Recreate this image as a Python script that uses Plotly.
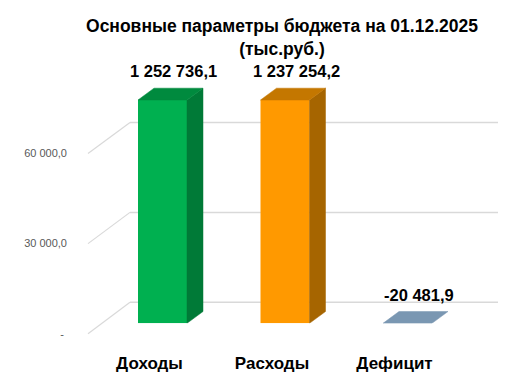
import plotly.graph_objects as go

# ---------------- data ----------------
categories = ["Доходы", "Расходы", "Дефицит"]
values = [1252736.1, 1237254.2, -20481.9]
tick_values = [0, 30000, 60000]
tick_labels = ["-\u00a0", "30 000,0", "60 000,0"]
title_lines = ["Основные параметры бюджета на 01.12.2025", "(тыс.руб.)"]

front_colors = ["#00B050", "#FF9900", "#7F9BB5"]
side_colors = ["#007A37", "#A66500", "#5F7A93"]
top_colors = ["#008A3E", "#C47700", "#7A97B2"]

FONT = "Liberation Sans, Arial, sans-serif"

# page body has an 8px default margin on every side: keep the page exactly 515x387
PAGE_W, PAGE_H, OFF = 515, 387, 8
W, H = PAGE_W - OFF, PAGE_H - 2 * OFF


def xf(px):
    return (px - OFF) / W


def yf(py):
    return 1 - (py - OFF) / H


CAT_PX = 122.5
X_LEFT = 101.25
BASE_PX = 328.5
TOP_PX = 101.5
SCALE = 3.0 / 1000
Y_MAX = (BASE_PX - TOP_PX) / SCALE
BAR_W = 0.4
DEPTH_DX = 16 / CAT_PX
DEPTH_DY = 12 / SCALE

BACK_BASE, BACK_SCALE = 307.0, 3.042 / 1000
FRONT_BASE, FRONT_SCALE = 339.0, 3.05 / 1000
WALL_FRONT_X, WALL_BACK_X, BACK_RIGHT_X = 88, 130, 498
GRID_COLOR = "#D9D9D9"

fig = go.Figure()

# front faces: real bars, clipped by the axis range
fig.add_trace(go.Bar(
    x=categories, y=values, width=BAR_W,
    marker=dict(color=front_colors, line=dict(width=0)),
    xaxis="x", yaxis="y", hoverinfo="skip", showlegend=False,
))

# side and top faces (3-D look), computed from the same values and range
for i, v in enumerate(values):
    top = min(max(v, 0), Y_MAX)
    x0, x1 = i - BAR_W / 2, i + BAR_W / 2
    if top > 0:
        fig.add_trace(go.Scatter(
            x=[x1, x1 + DEPTH_DX, x1 + DEPTH_DX, x1, x1],
            y=[0, DEPTH_DY, top + DEPTH_DY, top, 0],
            fill="toself", fillcolor=side_colors[i], mode="lines",
            line=dict(color=side_colors[i], width=0.5),
            xaxis="x2", yaxis="y2", hoverinfo="skip", showlegend=False,
        ))
    fig.add_trace(go.Scatter(
        x=[x0, x1, x1 + DEPTH_DX, x0 + DEPTH_DX, x0],
        y=[top, top, top + DEPTH_DY, top + DEPTH_DY, top],
        fill="toself", fillcolor=top_colors[i], mode="lines",
        line=dict(color=top_colors[i], width=0.5),
        xaxis="x2", yaxis="y2", hoverinfo="skip", showlegend=False,
    ))


def fmt(v):
    return f"{v:,.1f}".replace(",", " ").replace(".", ",")


annotations = []
for i, v in enumerate(values):
    top = min(max(v, 0), Y_MAX)
    annotations.append(dict(
        x=i + DEPTH_DX / 2 + 3 / CAT_PX, y=top + DEPTH_DY,
        xref="x2", yref="y2", text=fmt(v), showarrow=False,
        xanchor="center", yanchor="middle", yshift=17,
        font=dict(family=FONT, size=16.5, color="#000000", weight="bold"),
    ))

# dummy trace carrying the front tick-label axis
fig.add_trace(go.Scatter(x=[None], y=[None], xaxis="x2", yaxis="y3",
                         hoverinfo="skip", showlegend=False))

# back-wall gridlines and side-wall diagonals
shapes = []
for t in tick_values:
    yb = BACK_BASE - t * BACK_SCALE
    yfr = FRONT_BASE - t * FRONT_SCALE
    shapes.append(dict(type="line", xref="paper", yref="paper", layer="below",
                       x0=xf(WALL_BACK_X), x1=xf(BACK_RIGHT_X), y0=yf(yb), y1=yf(yb),
                       line=dict(color=GRID_COLOR, width=1.5)))
    shapes.append(dict(type="line", xref="paper", yref="paper", layer="below",
                       x0=xf(WALL_FRONT_X), x1=xf(WALL_BACK_X), y0=yf(yfr), y1=yf(yb),
                       line=dict(color=GRID_COLOR, width=1.2)))

x_domain = [xf(X_LEFT), xf(X_LEFT + 3 * CAT_PX)]

fig.update_layout(
    width=W, height=H, autosize=False,
    margin=dict(l=0, r=0, t=0, b=0, pad=0),
    paper_bgcolor="white", plot_bgcolor="rgba(0,0,0,0)",
    hovermode=False,
    title=dict(text="<br>".join(title_lines), x=xf(282), xanchor="center",
               y=yf(32), yanchor="top",
               font=dict(family=FONT, size=17.5, color="#000000", weight="bold")),
    xaxis=dict(domain=x_domain, type="category", range=[-0.5, 2.5],
               showgrid=False, zeroline=False, showline=False, ticks="",
               ticklabelshift=-13, ticklabelstandoff=28,
               tickfont=dict(family=FONT, size=17, color="#000000", weight="bold")),
    yaxis=dict(domain=[yf(BASE_PX), yf(TOP_PX)], range=[0, Y_MAX],
               visible=False, showgrid=False, zeroline=False),
    xaxis2=dict(domain=x_domain, range=[-0.5, 2.5], visible=False,
                anchor="y2", showgrid=False, zeroline=False),
    yaxis2=dict(domain=[yf(BASE_PX), 1], range=[0, (BASE_PX - OFF) / SCALE],
                visible=False, anchor="x2", showgrid=False, zeroline=False),
    yaxis3=dict(domain=[yf(FRONT_BASE), yf(FRONT_BASE - 80000 * FRONT_SCALE)],
                range=[0, 80000], anchor="free", position=xf(67), side="left",
                showgrid=False, zeroline=False, showline=False, ticks="",
                tickvals=tick_values, ticktext=tick_labels,
                tickfont=dict(family=FONT, size=11, color="#595959")),
    annotations=annotations,
    shapes=shapes,
)

fig.write_html("out.html")
